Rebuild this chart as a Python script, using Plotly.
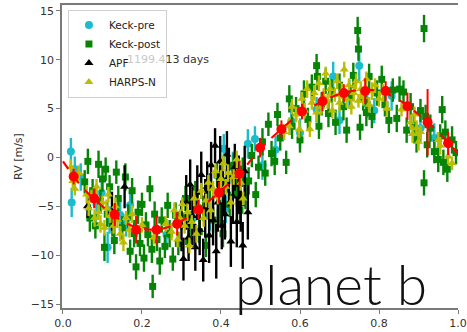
import plotly.graph_objects as go

# ---------------- data ----------------
keck_pre_phase = [0.020, 0.022, 0.030, 0.045, 0.085, 0.098, 0.113, 0.118, 0.145, 0.160, 0.170, 0.262,
                  0.330, 0.372, 0.407, 0.412, 0.430, 0.462, 0.468, 0.486, 0.505, 0.538, 0.578, 0.600,
                  0.642, 0.684, 0.700, 0.725, 0.750, 0.770, 0.788, 0.832, 0.905, 0.940]
keck_pre_rv = [0.6, -4.6, -1.2, -2.0, -4.8, -3.6, -9.2, -6.4, -5.9, -6.8, -4.9, -7.9,
               -6.2, -6.0, 0.9, -5.3, -1.0, -2.6, 1.4, 1.9, -0.8, 0.8, 3.7, 2.5,
               4.9, 8.3, 3.8, 6.5, 9.4, 5.5, 4.8, 6.3, 3.0, 2.0]
keck_pre_err = [1.4, 1.5, 1.3, 1.4, 1.5, 1.3, 1.6, 1.4, 1.5, 1.3, 1.4, 1.6,
                1.4, 1.5, 1.5, 1.4, 1.6, 1.4, 1.5, 1.3, 1.5, 1.4, 1.4, 1.5,
                1.3, 1.5, 1.4, 1.5, 1.6, 1.4, 1.3, 1.5, 1.4, 1.5]

keck_post_phase = [0.055, 0.063, 0.068, 0.075, 0.082, 0.090, 0.095, 0.100, 0.105, 0.108, 0.112, 0.118,
                   0.125, 0.130, 0.135, 0.140, 0.150, 0.158, 0.165, 0.170, 0.175, 0.180, 0.185, 0.190,
                   0.195, 0.200, 0.205, 0.210, 0.215, 0.220, 0.225, 0.227, 0.232, 0.238, 0.245, 0.250,
                   0.258, 0.265, 0.270, 0.278, 0.285, 0.292, 0.300, 0.310, 0.318, 0.325, 0.335, 0.345,
                   0.355, 0.362, 0.372, 0.380, 0.390, 0.398, 0.405, 0.415, 0.422, 0.432, 0.440, 0.448,
                   0.455, 0.462, 0.470, 0.478, 0.488, 0.495, 0.505, 0.512, 0.520, 0.528, 0.536, 0.543,
                   0.550, 0.565, 0.573, 0.580, 0.590, 0.600, 0.610, 0.620, 0.630, 0.642, 0.644, 0.648,
                   0.655, 0.665, 0.672, 0.680, 0.690, 0.700, 0.710, 0.718, 0.728, 0.735, 0.746, 0.748,
                   0.752, 0.760, 0.768, 0.775, 0.782, 0.795, 0.807, 0.815, 0.825, 0.835, 0.845, 0.852,
                   0.862, 0.870, 0.880, 0.888, 0.895, 0.905, 0.914, 0.914, 0.918, 0.922, 0.930, 0.940,
                   0.950, 0.955, 0.960, 0.963, 0.968, 0.973, 0.985, 0.995]
keck_post_rv = [-2.5, -0.4, -6.2, -3.4, -7.0, -0.7, -4.5, -2.2, -9.2, -1.2, -5.8, -3.0,
                -6.8, -8.5, -1.5, -4.2, -7.2, -2.0, -6.1, -9.6, -3.4, -7.8, -11.2, -5.6,
                -8.8, -4.8, -10.3, -6.9, -7.9, -3.2, -9.4, -13.2, -5.8, -8.4, -10.6, -6.4,
                -9.1, -4.9, -7.8, -10.4, -5.9, -8.8, -6.0, -4.2, -8.6, -6.8, -3.8, -7.6,
                -5.2, -9.0, -3.0, -6.4, -1.8, -5.6, -7.8, -2.4, -4.8, -0.8, -3.6, -5.4,
                -1.2, -4.0, -2.4, 0.2, -3.8, -1.0, 1.6, -1.6, 3.4, 0.4, -0.4, 4.4,
                2.0, -0.5, 6.0, 3.2, 5.0, 1.8, 6.5, 3.9, 7.2, 9.4, 8.3, 3.2,
                5.5, 7.8, 4.5, 6.8, 3.6, 7.4, 5.2, 2.8, 6.2, 8.4, 13.0, 11.1,
                3.1, 6.0, 4.6, 8.3, 4.2, 6.6, 8.0, 5.4, 3.8, 6.9, 4.0, 7.0,
                6.7, 2.8, 5.2, 3.3, 1.8, 4.8, 13.2, -2.6, 4.2, 1.3, 3.0, 0.6,
                -0.2, 2.2, 4.9, -0.5, 2.6, -1.2, 1.8, 0.5]
keck_post_err = [1.2, 1.3, 1.4, 1.2, 1.3, 1.4, 1.2, 1.3, 1.4, 1.2, 1.3, 1.2,
                 1.3, 1.4, 1.2, 1.3, 1.2, 1.4, 1.3, 1.2, 1.3, 1.4, 1.3, 1.2,
                 1.3, 1.2, 1.4, 1.3, 1.2, 1.3, 1.4, 1.2, 1.3, 1.2, 1.4, 1.3,
                 1.2, 1.3, 1.4, 1.2, 1.3, 1.2, 1.4, 1.3, 1.2, 1.3, 1.4, 1.2,
                 1.3, 1.2, 1.4, 1.3, 1.2, 1.3, 1.4, 1.2, 1.3, 1.2, 1.4, 1.3,
                 1.2, 1.3, 1.4, 1.2, 1.3, 1.2, 1.4, 1.3, 1.2, 1.3, 1.4, 1.2,
                 1.3, 1.2, 1.4, 1.3, 1.2, 1.3, 1.4, 1.2, 1.3, 1.2, 1.4, 1.3,
                 1.2, 1.3, 1.4, 1.2, 1.3, 1.2, 1.4, 1.3, 1.2, 1.3, 1.4, 1.2,
                 1.3, 1.2, 1.4, 1.3, 1.2, 1.3, 1.4, 1.2, 1.3, 1.2, 1.4, 1.3,
                 1.2, 1.3, 1.4, 1.2, 1.3, 1.2, 1.4, 1.3, 1.2, 1.3, 1.4, 1.2,
                 1.3, 1.2, 1.4, 1.3, 1.2, 1.3, 1.4, 1.2]

apf_phase = [0.062, 0.124, 0.156, 0.300, 0.305, 0.312, 0.318, 0.322, 0.328, 0.335, 0.340, 0.346,
             0.350, 0.355, 0.360, 0.365, 0.370, 0.375, 0.380, 0.385, 0.388, 0.392, 0.398, 0.402,
             0.405, 0.410, 0.415, 0.420, 0.425, 0.430, 0.435, 0.440, 0.445, 0.450, 0.455, 0.460,
             0.468]
apf_rv = [-5.0, -5.5, -3.0, -7.0, -10.4, -4.6, -8.2, -2.8, -6.0, -9.2, -3.6, -7.4,
          -1.8, -10.5, -5.2, -3.0, -8.0, -0.8, -6.4, 1.2, -9.6, -4.6, -0.4, -7.0,
          -3.2, -5.8, 0.3, -2.0, -8.6, -4.0, -1.0, -6.6, -2.8, -4.8, -9.0, -1.4,
          -5.6]
apf_err = [1.2, 2.0, 2.2, 2.6, 2.2, 2.8, 2.4, 2.6, 3.0, 2.4, 2.8, 2.6,
           2.4, 2.2, 3.0, 2.6, 2.8, 2.4, 2.6, 1.8, 2.8, 3.0, 2.6, 2.4,
           2.8, 2.6, 2.4, 3.0, 2.6, 2.8, 2.4, 2.6, 3.0, 2.8, 2.4, 2.6,
           2.8]

harps_phase = [0.020, 0.025, 0.030, 0.040, 0.060, 0.065, 0.072, 0.080, 0.085, 0.090, 0.095, 0.100,
               0.105, 0.110, 0.115, 0.120, 0.128, 0.133, 0.138, 0.145, 0.153, 0.160, 0.168, 0.175,
               0.200, 0.230, 0.260, 0.275, 0.282, 0.290, 0.296, 0.302, 0.308, 0.315, 0.320, 0.326,
               0.332, 0.338, 0.344, 0.350, 0.356, 0.362, 0.368, 0.374, 0.380, 0.386, 0.392, 0.400,
               0.406, 0.412, 0.418, 0.425, 0.432, 0.440, 0.450, 0.456,
               0.560, 0.573, 0.580, 0.590, 0.598, 0.605, 0.612, 0.618, 0.625, 0.630, 0.636, 0.642,
               0.648, 0.654, 0.660, 0.665, 0.670, 0.676, 0.682, 0.688, 0.694, 0.700, 0.706, 0.712,
               0.718, 0.724, 0.730, 0.736, 0.742, 0.748, 0.754, 0.760, 0.768, 0.775, 0.782, 0.790,
               0.800, 0.810, 0.820, 0.857, 0.880, 0.885, 0.890, 0.895, 0.900, 0.905, 0.950, 0.955,
               0.975, 0.985]
harps_rv = [-1.0, -2.4, -3.2, -1.6, -3.8, -5.2, -4.0, -6.2, -3.0, -5.6, -6.8, -4.6,
            -7.2, -5.2, -3.8, -6.0, -7.0, -5.0, -6.4, -7.8, -8.7, -6.2, -7.4, -5.8,
            -6.9, -8.2, -6.8, -7.6, -5.4, -8.4, -6.2, -4.8, -7.0, -5.6, -9.0, -6.6,
            -4.2, -7.8, -5.0, -3.4, -6.2, -4.4, -2.6, -5.4, -3.2, -1.4, -4.0, -2.2,
            -0.6, -3.0, -1.6, -4.6, -2.0, -0.2, -2.6, -4.2,
            2.6, 3.2, 5.2, 4.4, 2.9, 6.0, 4.8, 7.0, 2.9, 5.6, 6.6, 4.6,
            7.6, 5.2, 6.2, 8.6, 5.8, 7.0, 4.8, 6.4, 7.8, 5.6, 6.8, 9.0,
            6.0, 7.4, 5.2, 6.6, 7.8, 5.8, 7.0, 6.2, 8.0, 5.4, 6.8, 7.4,
            6.0, 6.6, 5.0, 4.9, 3.6, 2.4, 4.4, 3.0, 1.6, 2.6, 1.8, 1.2,
            0.1, -0.6]
harps_err = [0.8, 0.9, 0.7, 0.8, 0.9, 0.8, 0.7, 0.9, 0.8, 0.8, 0.9, 0.7,
             0.8, 0.9, 0.8, 0.7, 0.8, 0.9, 0.8, 0.8, 0.9, 0.7, 0.8, 0.9,
             0.8, 0.7, 0.8, 0.9, 0.8, 0.8, 0.9, 0.7, 0.8, 0.9, 0.8, 0.7,
             0.8, 0.9, 0.8, 0.8, 0.9, 0.7, 0.8, 0.9, 0.8, 0.7, 0.8, 0.9,
             0.8, 0.8, 0.9, 0.7, 0.8, 0.9, 0.8, 0.7,
             0.8, 0.9, 0.8, 0.8, 0.9, 0.7, 0.8, 0.9, 0.8, 0.7, 0.8, 0.9,
             0.8, 0.8, 0.9, 0.7, 0.8, 0.9, 0.8, 0.7, 0.8, 0.9, 0.8, 0.8,
             0.9, 0.7, 0.8, 0.9, 0.8, 0.7, 0.8, 0.9, 0.8, 0.8, 0.9, 0.7,
             0.8, 0.9, 0.8, 0.7, 0.8, 0.9, 0.8, 0.8, 0.9, 0.7, 0.8, 0.9,
             0.8, 0.7]

model_phase = [0.00, 0.05, 0.10, 0.15, 0.20, 0.25, 0.30, 0.35, 0.40, 0.45, 0.50,
               0.55, 0.60, 0.65, 0.70, 0.75, 0.80, 0.85, 0.90, 0.95, 1.00]
model_rv = [-0.4, -3.1, -5.0, -6.5, -7.3, -7.3, -6.5, -5.1, -3.4, -1.5, 0.9,
            2.8, 4.5, 5.6, 6.5, 6.9, 6.8, 5.9, 4.4, 2.6, 0.4]

bin_phase = [0.027, 0.079, 0.131, 0.185, 0.237, 0.289, 0.343, 0.395, 0.447, 0.499,
             0.553, 0.605, 0.657, 0.711, 0.765, 0.817, 0.872, 0.923, 0.975]
bin_rv = [-1.95, -4.2, -5.85, -7.4, -7.4, -6.8, -5.35, -3.6, -1.65, 1.0,
          2.9, 4.7, 5.75, 6.6, 6.8, 6.8, 5.25, 3.6, 1.45]
bin_err = [0.8, 1.0, 1.2, 1.4, 1.5, 1.2, 1.0, 1.1, 1.3, 1.0,
           0.9, 0.8, 1.0, 0.9, 1.3, 1.0, 1.4, 3.4, 1.2]

y_ticks = [-15, -10, -5, 0, 5, 10, 15]
y_ticklabels = ["\u221215", "\u221210", "\u22125", "0", "5", "10", "15"]

# ---------------- figure ----------------
fig = go.Figure()


def add_instr(phase, rv, err, name, color, symbol, size):
    fig.add_trace(go.Scatter(
        x=phase, y=rv, mode="markers", name=name,
        marker=dict(color=color, symbol=symbol, size=size, line=dict(width=0)),
        error_y=dict(type="data", array=err, color=color, thickness=2.4, width=0),
    ))


add_instr(keck_pre_phase, keck_pre_rv, keck_pre_err, "Keck-pre", "#1cbccb", "circle", 8)
add_instr(keck_post_phase, keck_post_rv, keck_post_err, "Keck-post", "#068406", "square", 7)
add_instr(apf_phase, apf_rv, apf_err, "APF", "#000000", "triangle-up", 8)
add_instr(harps_phase, harps_rv, harps_err, "HARPS-N", "#bcbc00", "triangle-up", 8)

fig.add_trace(go.Scatter(
    x=model_phase, y=model_rv, mode="lines",
    line=dict(color="#ff0000", width=2.2, dash="dash", shape="spline"),
    showlegend=False, hoverinfo="skip"))
fig.add_trace(go.Scatter(
    x=bin_phase, y=bin_rv, mode="markers", showlegend=False,
    marker=dict(color="#ff0000", size=10, symbol="circle"),
    error_y=dict(type="data", array=bin_err, color="#ff0000", thickness=2, width=0)))

axis_common = dict(
    showgrid=False, zeroline=False, showline=True, linecolor="#7a7a7a", linewidth=1.5,
    ticks="outside", ticklen=4, tickwidth=1.2, tickcolor="#7a7a7a",
    tickfont=dict(family="DejaVu Sans", size=11, color="#333333"),
)

fig.update_xaxes(range=[-0.0025, 1.0], tickmode="linear", tick0=0, dtick=0.2, tickformat=".1f",
                 mirror=True, ticklabeloverflow="allow", **axis_common)
fig.update_yaxes(range=[-15.41, 15.61], tickmode="array", tickvals=y_ticks, ticktext=y_ticklabels,
                 title=dict(text="RV [m/s]", font=dict(family="DejaVu Sans", size=11, color="#333333"),
                            standoff=6),
                 **axis_common)

fig.update_layout(
    width=467, height=332,
    margin=dict(l=62, r=0, t=5, b=24),
    plot_bgcolor="white", paper_bgcolor="white",
    legend=dict(x=0.015, y=0.985, xanchor="left", yanchor="top",
                bgcolor="rgba(255,255,255,0.8)", bordercolor="#d0d0d0", borderwidth=1,
                font=dict(family="DejaVu Sans", size=10.5, color="#222222"),
                tracegroupgap=0, itemwidth=30),
    annotations=[
        dict(x=0.16, y=0.82, xref="paper", yref="paper", xanchor="left", yanchor="middle",
             text="<span style='color:#c8c8c8'>1199.4</span>13 days", showarrow=False,
             font=dict(family="DejaVu Sans", size=11, color="#333333")),
        dict(x=0.68, y=0.08, xref="paper", yref="paper", xanchor="center", yanchor="middle",
             text="planet b", showarrow=False,
             font=dict(family="Lato", size=55, color="#111111", weight=300)),
    ],
    showlegend=True,
)

fig.write_html("out.html")
